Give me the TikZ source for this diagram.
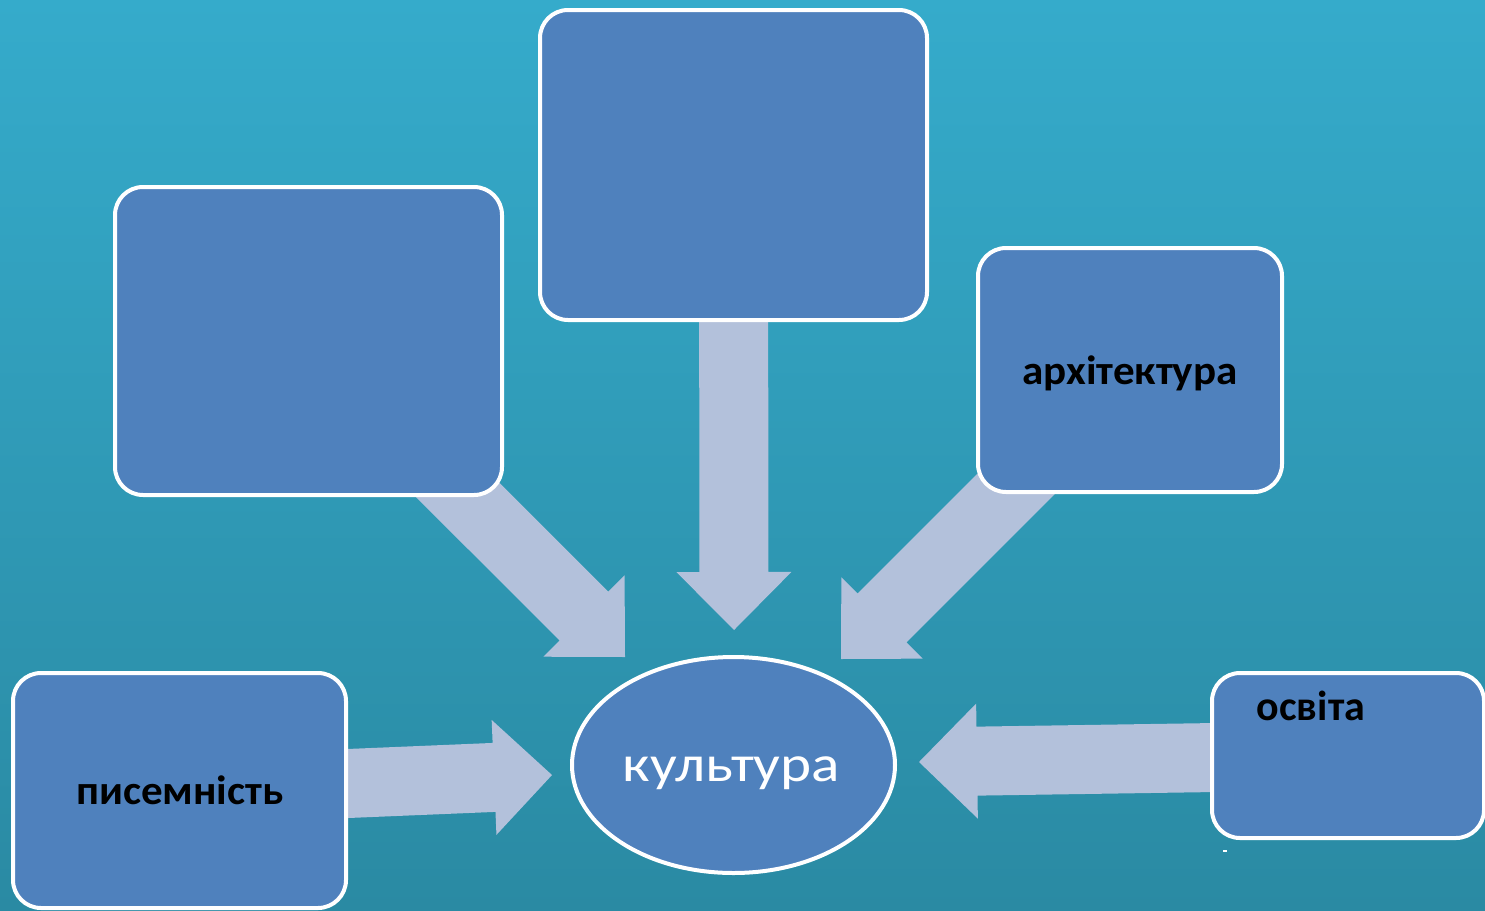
\documentclass[tikz,border=0pt]{standalone}
\usepackage{fontspec}
\setmainfont{Carlito}
\usetikzlibrary{calc,shapes.geometric}
\definecolor{bgtop}{RGB}{53,171,203}
\definecolor{bgbot}{RGB}{42,138,163}
\definecolor{boxblue}{RGB}{79,129,189}
\definecolor{arrowfill}{RGB}{179,193,219}
\pgfdeclarelayer{bg}
\pgfsetlayers{bg,main}
\newcommand{\blockarr}[3]{%
  \coordinate (#3h) at ($(#2)!58pt!(#1)$);
  \fill[arrowfill] ($(#1)!34.5pt!90:(#2)$) -- ($(#3h)!34.5pt!90:(#2)$) -- ($(#3h)!57.5pt!90:(#2)$) -- (#2) -- ($(#3h)!57.5pt!-90:(#2)$) -- ($(#3h)!34.5pt!-90:(#2)$) -- ($(#1)!34.5pt!-90:(#2)$) -- cycle;}
\begin{document}
\begin{tikzpicture}[x=1pt,y=-1pt,
  box/.style={draw=white,line width=4pt,fill=boxblue,rounded corners=28pt,inner sep=0pt},
  oval/.style={ellipse,draw=white,line width=4pt,fill=boxblue,inner sep=0pt},
  boldtxt/.style={font=\fontsize{41}{47}\selectfont\bfseries,text=black,inner sep=0pt,anchor=base},
  culttxt/.style={font=\fontsize{51}{58}\selectfont,text=white,inner sep=0pt,anchor=base}]
\useasboundingbox (0,0) rectangle (1485,910);
\node[box,minimum width=387pt,minimum height=310pt] (btop) at (733.5,165) {};
\node[box,minimum width=387pt,minimum height=308pt] (bleft) at (308.5,341) {};
\node[box,minimum width=304pt,minimum height=244pt] (barch) at (1130,370) {};
\node[box,minimum width=333pt,minimum height=235pt] (bwrite) at (179.5,790.5) {};
\node[box,minimum width=272pt,minimum height=165pt] (bedu) at (1348,755.5) {};
\node[oval,minimum width=323pt,minimum height=216pt] (cult) at (733.5,765) {};
\node[boldtxt] (tarch) at (1130,384) {\scalebox{1.05}[1]{архітектура}};
\node[boldtxt] (twritet) at (180,804) {\scalebox{1.05}[1]{писемність}};
\node[boldtxt,font=\fontsize{42}{48}\selectfont\bfseries] (tedu) at (1311,720) {освіта};
\node[culttxt] (tcult) at (731.5,781) {\scalebox{1.16}[1]{культура}};
\coordinate (ttop) at (734,630);
\coordinate (tleft) at (625,657);
\coordinate (tright) at (841,659);
\coordinate (twrite) at (552,775);
\coordinate (tedu2) at (919,762);
\coordinate (dash) at (1225,851);
\begin{pgfonlayer}{bg}
\fill[top color=bgtop,bottom color=bgbot] (0,0) rectangle (1485,910);
\blockarr{btop.center}{ttop}{a}
\blockarr{bleft.center}{tleft}{b}
\blockarr{barch.center}{tright}{c}
\blockarr{bwrite.center}{twrite}{d}
\blockarr{bedu.center}{tedu2}{e}
\end{pgfonlayer}
\fill[white] ($(dash)+(-2,-1)$) rectangle ($(dash)+(2,1)$);
\end{tikzpicture}
\end{document}
